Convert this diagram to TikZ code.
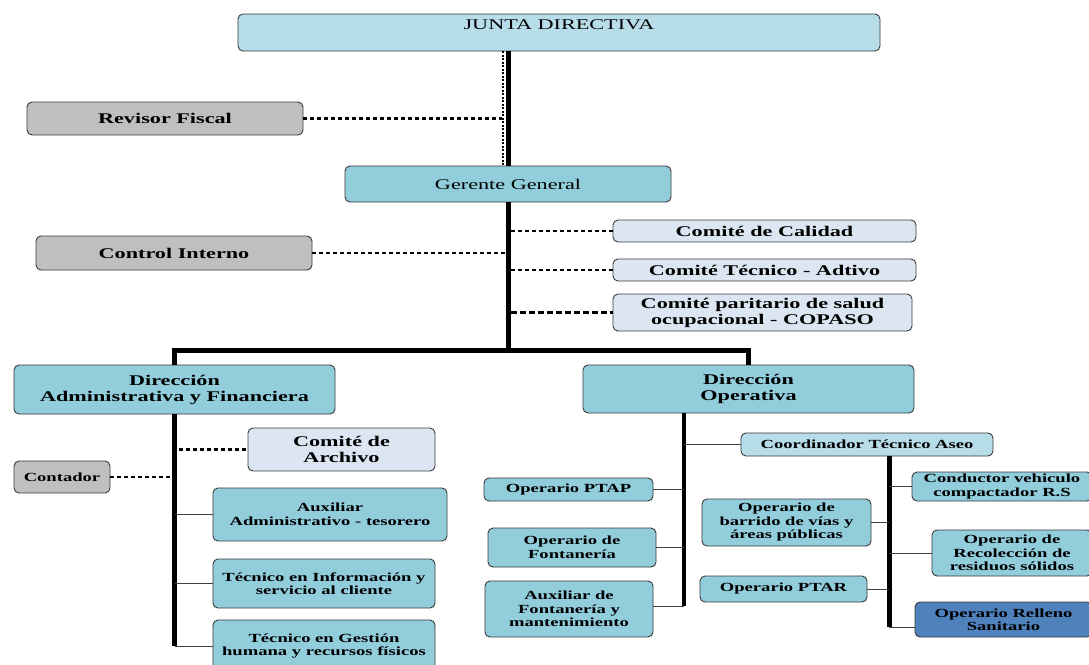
\documentclass[tikz,border=0pt]{standalone}
\usepackage{fontspec}
\setmainfont{Liberation Serif}[FakeStretch=1.5]
\definecolor{juntablue}{HTML}{B7DDE8}
\definecolor{cargoblue}{HTML}{92CDDC}
\definecolor{comitefill}{HTML}{DCE6F2}
\definecolor{asesorgray}{HTML}{BFBFBF}
\definecolor{rellenoblue}{HTML}{4F81BD}
\definecolor{borde}{HTML}{3A3A3A}
\newcommand{\grande}{\fontsize{14.8}{16}\selectfont}
\newcommand{\medio}{\fontsize{12.4}{13.5}\selectfont\bfseries}
\tikzset{
  caja/.style={draw=borde, line width=0.9pt, rounded corners=5pt, align=center, inner sep=2pt, text=black},
  cargo/.style={caja, fill=cargoblue},
  comite/.style={caja, fill=comitefill, font=\grande\bfseries},
  asesor/.style={caja, fill=asesorgray},
  tronco/.style={line width=5pt, black},
  rama/.style={line width=0.8pt, black!75},
  punteado/.style={line width=2.8pt, dash pattern=on 4pt off 3pt},
}
\begin{document}
\begin{tikzpicture}[x=1pt, y=-1pt]
\useasboundingbox (0,0) rectangle (1089,664);
% direccion
\node[caja, fill=juntablue, font=\grande, minimum width=642pt, text height=11pt, text depth=18pt, inner sep=4pt] (junta) at (559,32.5) {JUNTA DIRECTIVA};
\node[cargo, font=\grande, minimum width=326pt, minimum height=36pt] (gerente) at (508,184) {Gerente General};
\node[asesor, font=\grande\bfseries, minimum width=276pt, minimum height=33pt] (revisor) at (165,118.5) {Revisor Fiscal};
\node[asesor, font=\grande\bfseries, minimum width=276pt, minimum height=34pt] (control) at (174,253) {Control Interno};
\node[comite, minimum width=303pt, minimum height=22pt] (calidad) at (764.5,231) {Comité de Calidad};
\node[comite, minimum width=303pt, minimum height=22pt] (tecadm) at (764.5,270) {Comité Técnico - Adtivo};
\node[comite, minimum width=299pt, minimum height=37pt] (copaso) at (762.5,312.5) {Comité paritario de salud\\ocupacional - COPASO};
% direcciones
\node[cargo, font=\grande\bfseries, minimum width=321pt, minimum height=49pt] (dadmin) at (174.5,389.5) {Dirección\\Administrativa y Financiera};
\node[cargo, font=\grande\bfseries, minimum width=331pt, minimum height=48pt] (dop) at (748.5,389) {Dirección\\Operativa};
% area administrativa
\node[comite, minimum width=187pt, minimum height=43pt] (archivo) at (341.5,449.5) {Comité de\\Archivo};
\node[asesor, font=\medio, minimum width=96pt, minimum height=32pt] (contador) at (62,477) {Contador};
\node[cargo, font=\medio, minimum width=234pt, minimum height=53pt] (auxadm) at (330,514.5) {Auxiliar\\Administrativo - tesorero};
\node[cargo, font=\medio, minimum width=222pt, minimum height=49pt] (tecinfo) at (324,583.5) {Técnico en Información y\\servicio al cliente};
\node[cargo, font=\medio, minimum width=222pt, minimum height=52pt] (tecgest) at (324,646) {Técnico en Gestión\\humana y recursos físicos};
% area operativa
\node[caja, fill=juntablue, font=\medio, minimum width=252pt, minimum height=23pt] (coord) at (867,444.5) {Coordinador Técnico Aseo};
\node[cargo, font=\medio, minimum width=169pt, minimum height=23pt] (ptap) at (568.5,489.5) {Operario PTAP};
\node[cargo, font=\medio, minimum width=168pt, minimum height=39pt] (fontan) at (572,547.5) {Operario de\\Fontanería};
\node[cargo, font=\medio, minimum width=168pt, minimum height=56pt] (auxfont) at (569,609) {Auxiliar de\\Fontanería y\\mantenimiento};
\node[cargo, font=\medio, minimum width=180pt, minimum height=29pt] (conductor) at (1002,486.5) {Conductor vehiculo\\compactador R.S};
\node[cargo, font=\medio, minimum width=169pt, minimum height=47pt] (barrido) at (786.5,522.5) {Operario de\\barrido de vías y\\áreas públicas};
\node[cargo, font=\medio, minimum width=160pt, minimum height=46pt] (recoleccion) at (1012,553) {Operario de\\Recolección de\\residuos sólidos};
\node[cargo, font=\medio, minimum width=167pt, minimum height=26pt] (ptar) at (783.5,589) {Operario PTAR};
\node[caja, fill=rellenoblue, font=\medio, minimum width=177pt, minimum height=35pt] (relleno) at (1003.5,619.5) {Operario Relleno\\Sanitario};
% lineas
\coordinate (barra) at (508,350);
\coordinate (dopfin) at (684,606);
\coordinate (coordfin) at (889,627);
\draw[tronco] (junta.south -| gerente.north) -- (gerente.north);
\draw[line width=1.5pt, dash pattern=on 2pt off 1.5pt] ([xshift=-5pt]junta.south -| gerente.north) -- ([xshift=-5pt]gerente.north);
\draw[tronco] (gerente.south) -- (barra);
\draw[tronco] (dadmin.north) |- (barra) -| (dop.north);
\draw[punteado, shorten >=6pt] (revisor.east) -- (gerente.north |- revisor.east);
\draw[punteado, shorten >=3pt] (control.east) -- (gerente.south |- control.east);
\draw[punteado, shorten <=3pt] (gerente.south |- calidad.west) -- (calidad.west);
\draw[punteado, shorten <=3pt] (gerente.south |- tecadm.west) -- (tecadm.west);
\draw[line width=3.8pt, dash pattern=on 6pt off 3pt, shorten <=3pt] (gerente.south |- copaso.west) -- (copaso.west);
% administrativa
\draw[tronco] (dadmin.south) -- (dadmin.south |- tecgest.west);
\draw[rama] (dadmin.south |- tecgest.west) -- (tecgest.west);
\draw[rama] (dadmin.south |- auxadm.west) -- (auxadm.west);
\draw[rama] (dadmin.south |- tecinfo.west) -- (tecinfo.west);
\draw[punteado, shorten <=4pt] (dadmin.south |- archivo.west) -- (archivo.west);
\draw[punteado, shorten >=4pt] (contador.east) -- (dadmin.south |- contador.east);
% operativa
\draw[line width=3.5pt] (dopfin |- dop.south) -- (dopfin);
\draw[rama] (dopfin |- coord.west) -- (coord.west);
\draw[rama] (ptap.east) -- (dopfin |- ptap.east);
\draw[rama] (fontan.east) -- (dopfin |- fontan.east);
\draw[rama] (dopfin) -- (dopfin -| auxfont.east);
\draw[tronco] (coordfin |- coord.south) -- (coordfin);
\draw[rama] (coordfin |- conductor.west) -- (conductor.west);
\draw[rama] (barrido.east) -- (coordfin |- barrido.east);
\draw[rama] (coordfin |- recoleccion.west) -- (recoleccion.west);
\draw[rama] (ptar.east) -- (coordfin |- ptar.east);
\draw[rama] (coordfin) -- (coordfin -| relleno.west);
\end{tikzpicture}
\end{document}
